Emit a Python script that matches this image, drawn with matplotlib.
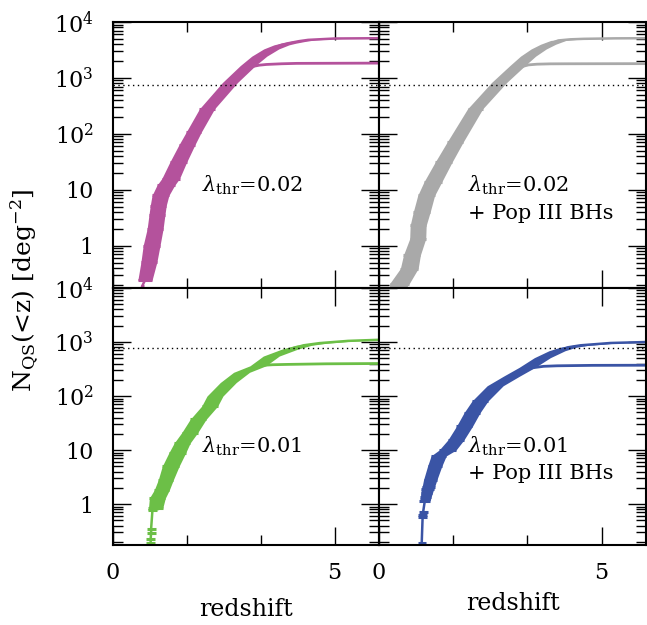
import numpy as np
import matplotlib.pyplot as plt
from matplotlib.ticker import FixedLocator, LogLocator, FuncFormatter, NullFormatter

plt.rcParams['font.family'] = 'DejaVu Serif'
plt.rcParams['mathtext.fontset'] = 'dejavuserif'

# lambda_thr = 0.02 (magenta)
z_a = [0.66, 0.72, 0.81, 0.87, 0.95, 0.99, 1.02, 1.07, 1.19, 1.30, 1.47, 1.66, 1.82,
       2.12, 2.64, 3.04, 3.30, 3.57, 3.80, 3.95, 4.20, 4.40, 5.00, 6.00]
n_a = [0.19, 0.24, 0.51, 1.0, 2.0, 3.5, 5.2, 7.9, 12, 15.8, 31, 62, 107,
       280, 830, 1660, 2450, 3300, 3900, 4170, 4550, 4790, 5070, 5130]
dz_a = [0.03, 0.16, 0.18, 0.19, 0.18, 0.18, 0.18, 0.19, 0.20, 0.20, 0.19, 0.18, 0.17,
        0.17, 0.17, 0.17, 0.17, 0.17, 0.17, 0.17, 0.17, 0.17, 0.17, 0.17]
z_a_low = [3.15, 3.30, 3.46, 3.80, 4.14, 6.0]
n_a_low = [1600, 1690, 1740, 1790, 1820, 1840]

# lambda_thr = 0.02 + Pop III BHs (grey)
z_b = [0.40, 0.46, 0.68, 0.74, 0.87, 0.88, 0.96, 1.06, 1.21, 1.45, 1.71, 2.16, 2.70,
       3.11, 3.35, 3.59, 3.80, 4.03, 4.30, 4.60, 5.30, 6.00]
n_b = [0.16, 0.21, 0.39, 0.68, 1.33, 2.3, 4.0, 7.9, 13.8, 31, 71, 280, 830,
       1660, 2450, 3300, 4000, 4680, 4900, 5000, 5100, 5130]
dz_b = [0.17, 0.22, 0.20, 0.19, 0.18, 0.18, 0.19, 0.19, 0.20, 0.19, 0.18, 0.17, 0.17,
        0.17, 0.17, 0.17, 0.17, 0.17, 0.17, 0.17, 0.17, 0.17]
z_b_low = [3.22, 3.36, 3.55, 3.85, 4.20, 6.0]
n_b_low = [1600, 1710, 1760, 1785, 1790, 1800]

# lambda_thr = 0.01 (green)
z_c = [0.85, 0.85, 0.86, 0.86, 0.89, 0.96, 1.00, 1.10, 1.19, 1.30, 1.45, 1.56, 1.73,
       1.92, 2.18, 2.30, 2.60, 2.90, 3.27, 3.57, 3.99, 4.30, 4.66, 5.30, 6.00]
n_c = [0.19, 0.23, 0.29, 0.35, 0.78, 0.83, 1.29, 1.82, 2.8, 5.0, 8.9, 13.5, 21,
       37, 65, 100, 178, 275, 363, 550, 740, 870, 955, 1050, 1100]
dz_c = [0.10, 0.10, 0.10, 0.10, 0.11, 0.16, 0.18, 0.17, 0.17, 0.19, 0.19, 0.18, 0.18,
        0.18, 0.18, 0.18, 0.18, 0.18, 0.18, 0.18, 0.18, 0.18, 0.18, 0.18, 0.18]
z_c_low = [3.37, 3.60, 3.91, 4.80, 6.0]
n_c_low = [370, 380, 385, 395, 400]

# lambda_thr = 0.01 + Pop III BHs (blue)
z_d = [0.96, 0.98, 0.98, 0.99, 1.03, 1.05, 1.07, 1.09, 1.11, 1.15, 1.25, 1.34, 1.54,
       1.73, 1.92, 2.09, 2.27, 2.61, 2.98, 3.33, 3.67, 4.00, 4.25, 4.53, 5.20, 6.00]
n_d = [0.19, 0.57, 0.63, 0.70, 1.15, 1.35, 1.6, 1.9, 2.1, 2.8, 5.0, 7.8, 10,
       15.5, 27.5, 49, 81, 155, 234, 340, 513, 690, 800, 870, 960, 1000]
dz_d = [0.09, 0.10, 0.10, 0.10, 0.12, 0.12, 0.13, 0.14, 0.14, 0.15, 0.16, 0.17, 0.19,
        0.18, 0.18, 0.18, 0.18, 0.18, 0.18, 0.18, 0.18, 0.18, 0.18, 0.18, 0.18, 0.18]
z_d_low = [3.40, 3.70, 4.00, 4.80, 6.0]
n_d_low = [330, 355, 363, 370, 372]

n_survey = 760

panels = [
    (z_a, n_a, dz_a, z_a_low, n_a_low, '#B4529C', [r'$\lambda_{\rm thr}$=0.02'], 1),
    (z_b, n_b, dz_b, z_b_low, n_b_low, '#A9A9A9', [r'$\lambda_{\rm thr}$=0.02', '+ Pop III BHs'], 0),
    (z_c, n_c, dz_c, z_c_low, n_c_low, '#6CBF47', [r'$\lambda_{\rm thr}$=0.01'], 4),
    (z_d, n_d, dz_d, z_d_low, n_d_low, '#3A54A5', [r'$\lambda_{\rm thr}$=0.01', '+ Pop III BHs'], 4),
]

fig = plt.figure(figsize=(6.47, 6.25), dpi=100)
W, H = 647.0, 625.0
boxes = [(113, 22, 266, 266), (379, 22, 267, 266), (113, 288, 266, 257), (379, 288, 267, 257)]


def ylab(v, pos):
    if v == 1:
        return '1'
    if v == 10:
        return '10'
    return r'$10^{%d}$' % round(np.log10(v))


for i, (z, n, dz, zl, nl, col, txt, k) in enumerate(panels):
    x0, y0, w, h = boxes[i]
    ax = fig.add_axes([x0 / W, 1 - (y0 + h) / H, w / W, h / H])
    z = np.array(z)
    n = np.array(n)
    dz = np.array(dz)

    ax.fill_betweenx(n[k:], z[k:] - dz[k:], z[k:] + dz[k:], color=col, lw=0)
    low = z < 2.3
    ax.errorbar(z[low], n[low], xerr=dz[low], fmt='none', ecolor=col, elinewidth=2.2, capsize=0)
    ax.plot(z, n, color=col, lw=1.8)
    ax.plot(zl, nl, color=col, lw=2)
    ax.axhline(n_survey, ls=(0, (1, 2.5)), color='k', lw=1)

    ax.set_xlim(0, 6)
    ax.set_ylim(0.175, 1e4)
    ax.set_yscale('log')
    ax.xaxis.set_major_locator(FixedLocator([0, 5]))
    ax.xaxis.set_minor_locator(FixedLocator([5 / 3., 10 / 3.]))
    ax.yaxis.set_major_locator(FixedLocator([1, 10, 100, 1000, 10000]))
    ax.yaxis.set_minor_locator(LogLocator(base=10, subs=np.arange(2, 10)))
    ax.yaxis.set_minor_formatter(NullFormatter())
    ax.tick_params(which='both', direction='in', top=True, right=True, width=1)
    ax.tick_params(which='major', length=13, labelsize=16)
    ax.tick_params(which='minor', length=7)
    ax.tick_params(axis='y', pad=14)
    ax.tick_params(axis='x', pad=12)
    for s in ax.spines.values():
        s.set_linewidth(1.5)

    if i % 2 == 0:
        ax.yaxis.set_major_formatter(FuncFormatter(ylab))
    else:
        ax.set_yticklabels([])
    if i < 2:
        ax.set_xticklabels([])
    else:
        ax.set_xlabel('redshift', fontsize=17, labelpad=10 if i == 2 else 6)

    ax.text(0.335, 0.385, txt[0], transform=ax.transAxes, fontsize=15, va='center')
    if len(txt) > 1:
        ax.text(0.335, 0.28, txt[1], transform=ax.transAxes, fontsize=15, va='center')

fig.text(25 / W, 1 - 290 / H, r'N$_{\rm QS}$(<z) [deg$^{-2}$]', rotation=90,
         fontsize=18, ha='center', va='center')

fig.savefig('out.png', dpi=100)
